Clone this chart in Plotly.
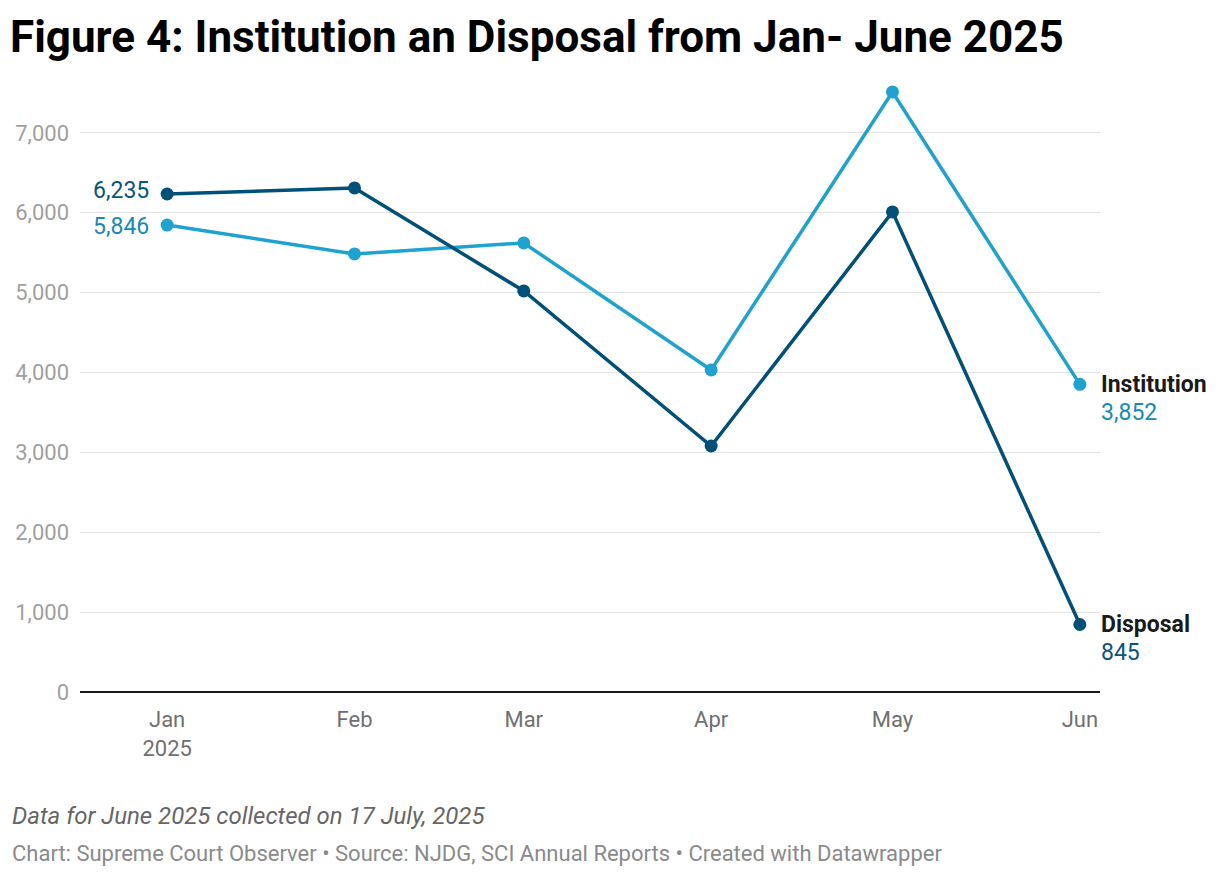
import plotly.graph_objects as go

months = ["2025-01-01", "2025-02-01", "2025-03-01", "2025-04-01", "2025-05-01", "2025-06-01"]
tick_labels = ["Jan<br>2025", "Feb", "Mar", "Apr", "May", "Jun"]
institution = [5846, 5485, 5622, 4032, 7513, 3852]
disposal = [6235, 6311, 5021, 3080, 6011, 845]

C_INST = "#1ea3d1"
C_DISP = "#00507a"
C_INST_TXT = "#1a8ab4"
C_DISP_TXT = "#0a5480"

W, H = 1212, 868
L, R, T, B = 72, 120, 69, 184
PW, PH = W - L - R, H - T - B

fig = go.Figure()
fig.add_trace(go.Scatter(x=months, y=institution, mode="lines+markers", name="Institution",
                         line=dict(color=C_INST, width=3.5), marker=dict(size=13, color=C_INST)))
fig.add_trace(go.Scatter(x=months, y=disposal, mode="lines+markers", name="Disposal",
                         line=dict(color=C_DISP, width=3.5), marker=dict(size=13, color=C_DISP)))

font = "Roboto, sans-serif"
ann = []
ann.append(dict(x=months[0], y=disposal[0], text=f"{disposal[0]:,}", xanchor="right", yanchor="middle",
                xshift=-16, yshift=4, showarrow=False, font=dict(family=font, size=23, color=C_DISP_TXT)))
ann.append(dict(x=months[0], y=institution[0], text=f"{institution[0]:,}", xanchor="right", yanchor="middle",
                xshift=-16, yshift=-1, showarrow=False, font=dict(family=font, size=23, color=C_INST_TXT)))
for name, vals, col in [("Institution", institution, C_INST_TXT), ("Disposal", disposal, C_DISP_TXT)]:
    ann.append(dict(x=months[-1], y=vals[-1], text=f"<b>{name}</b>", xanchor="left", yanchor="middle",
                    xshift=19, yshift=0, showarrow=False, font=dict(family=font, size=23, color="#1a1a1a")))
    ann.append(dict(x=months[-1], y=vals[-1], text=f"{vals[-1]:,}", xanchor="left", yanchor="middle",
                    xshift=19, yshift=-28, showarrow=False, font=dict(family=font, size=23, color=col)))

def py(fig_y):
    return 1 - (fig_y - T) / PH

ann.append(dict(xref="paper", yref="paper", x=(2 - L) / PW, y=py(808), xanchor="left", yanchor="middle",
                text="<i>Data for June 2025 collected on 17 July, 2025</i>", showarrow=False,
                font=dict(family=font, size=24, color="#666666")))
ann.append(dict(xref="paper", yref="paper", x=(2 - L) / PW, y=py(845), xanchor="left", yanchor="middle",
                text="Chart: Supreme Court Observer • Source: NJDG, SCI Annual Reports • Created with Datawrapper",
                showarrow=False, font=dict(family=font, size=22, color="#8a8a8a")))

fig.update_layout(
    width=W, height=H,
    margin=dict(l=L, r=R, t=T, b=B, autoexpand=False),
    paper_bgcolor="white", plot_bgcolor="white",
    showlegend=False,
    title=dict(text="<b>Figure 4: Institution an Disposal from Jan- June 2025</b>", x=2 / W, xanchor="left",
               y=1 - 29 / H, yanchor="middle", font=dict(family=font, size=44, color="#000000")),
    annotations=ann,
    font=dict(family=font),
)
fig.update_xaxes(type="date", range=["2024-12-17 14:00", "2025-06-04 08:00"],
                 tickvals=months, ticktext=tick_labels, showgrid=False, zeroline=False,
                 showline=False, ticks="", ticklabelstandoff=12, automargin=False,
                 tickfont=dict(family=font, size=22, color="#707070"))
fig.update_yaxes(range=[0, 7700], tickvals=[0, 1000, 2000, 3000, 4000, 5000, 6000, 7000],
                 tickformat=",", showgrid=True, gridcolor="#e3e3e3", gridwidth=1,
                 zeroline=True, zerolinecolor="#1a1a1a", zerolinewidth=2, automargin=False,
                 ticks="", ticklabelstandoff=10, tickfont=dict(family=font, size=22, color="#a0a0a0"))

fig.write_html("out.html")
